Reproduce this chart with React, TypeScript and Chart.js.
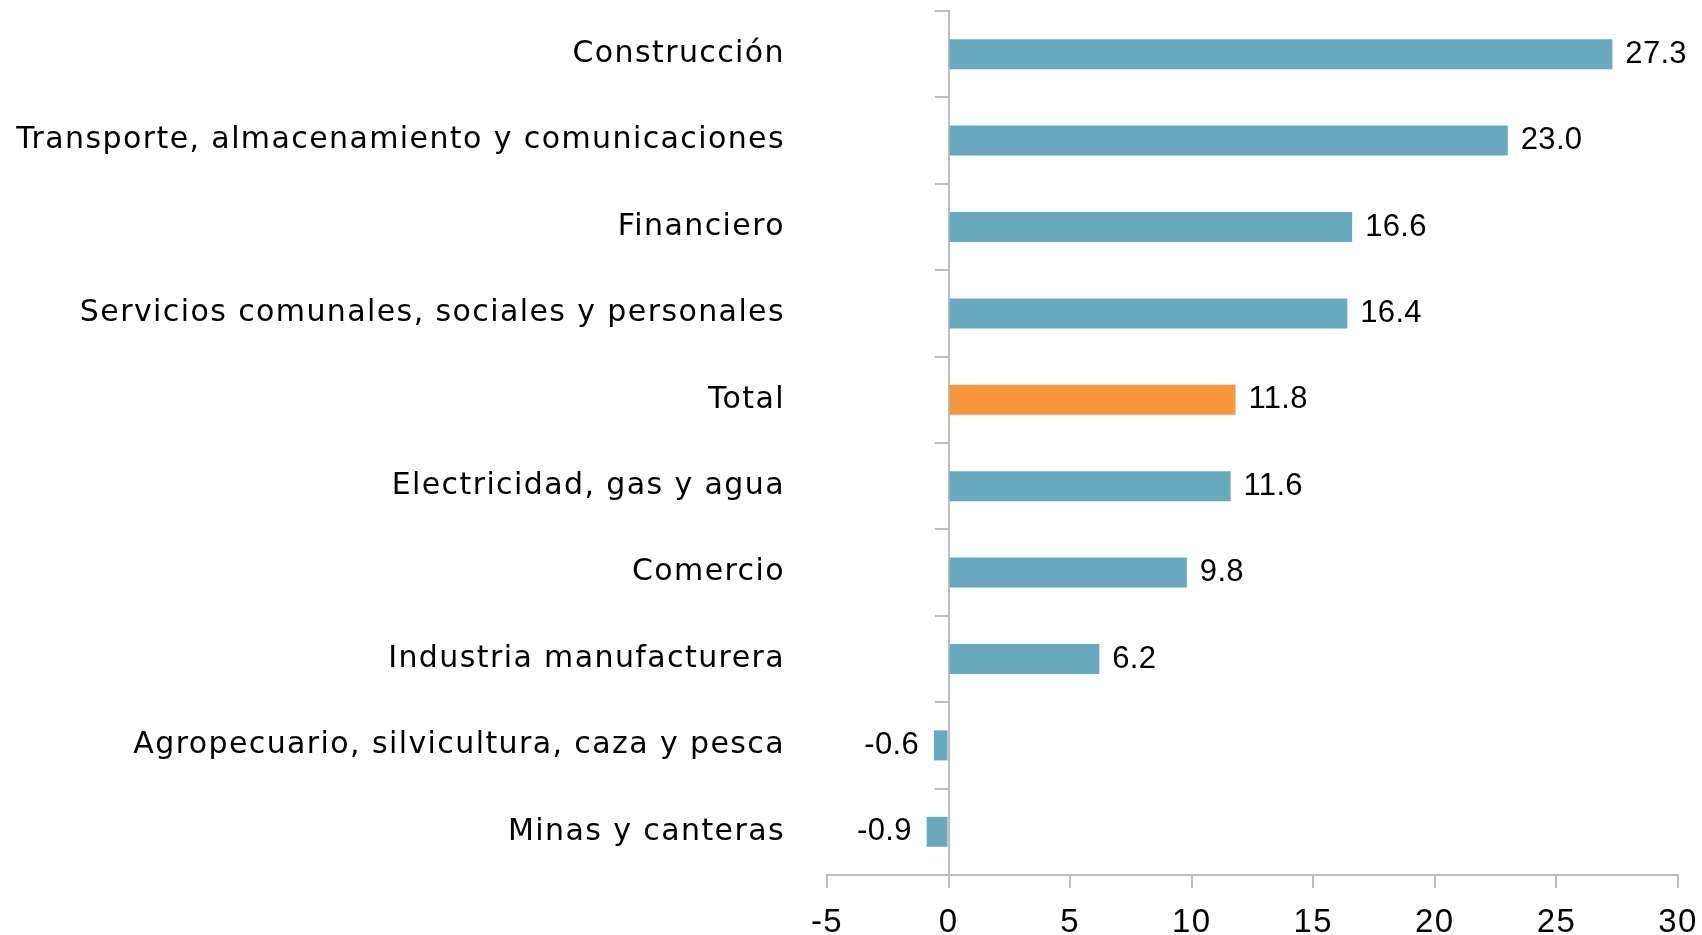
import React, { useEffect, useRef } from "react";
import { Chart, registerables } from "chart.js";

Chart.register(...registerables);

const categories = [
  "Construcción",
  "Transporte, almacenamiento y comunicaciones",
  "Financiero",
  "Servicios comunales, sociales y personales",
  "Total",
  "Electricidad, gas y agua",
  "Comercio",
  "Industria manufacturera",
  "Agropecuario, silvicultura, caza y pesca",
  "Minas y canteras",
];

const values = [27.3, 23.0, 16.6, 16.4, 11.8, 11.6, 9.8, 6.2, -0.6, -0.9];

const highlight = "Total";
const xMin = -5;
const xMax = 30;
const xStep = 5;

const BLUE = "#67A9BD";
const ORANGE = "#F7963A";
const AXIS = "#BDBDBD";
const TEXT = "#000000";
const CAT_FONT = "DejaVu Sans";
const NUM_FONT = "Liberation Sans";

const spacing = {
  id: "spacing",
  beforeDraw(chart: any) {
    (chart.ctx as any).letterSpacing = "1.4px";
  },
  afterDraw(chart: any) {
    (chart.ctx as any).letterSpacing = "0px";
  },
};

const valueLabels = {
  id: "valueLabels",
  afterDatasetsDraw(chart: any) {
    const ctx = chart.ctx;
    const meta = chart.getDatasetMeta(0);
    ctx.save();
    (ctx as any).letterSpacing = "0.3px";
    ctx.font = `31px "${NUM_FONT}"`;
    ctx.fillStyle = TEXT;
    ctx.textBaseline = "middle";
    meta.data.forEach((el: any, i: number) => {
      const v = values[i];
      const txt = v.toFixed(1);
      if (v >= 0) {
        ctx.textAlign = "left";
        ctx.fillText(txt, el.x + 13, el.y);
      } else {
        ctx.textAlign = "right";
        ctx.fillText(txt, el.x - 15, el.y);
      }
    });
    ctx.restore();
  },
};

export default function App() {
  const ref = useRef<HTMLCanvasElement | null>(null);

  useEffect(() => {
    if (!ref.current) return;
    const chart = new Chart(ref.current, {
      type: "bar",
      data: {
        labels: categories,
        datasets: [
          {
            data: values,
            backgroundColor: categories.map((c) => (c === highlight ? ORANGE : BLUE)),
            categoryPercentage: 1,
            barPercentage: 0.347,
            yAxisID: "y",
          },
        ],
      },
      options: {
        indexAxis: "y",
        animation: false,
        responsive: false,
        maintainAspectRatio: false,
        layout: { padding: { top: 11, right: 24, left: 0, bottom: 0 } },
        plugins: {
          legend: { display: false },
          tooltip: { enabled: false },
        },
        scales: {
          x: {
            type: "linear",
            min: xMin,
            max: xMax,
            ticks: {
              stepSize: xStep,
              color: TEXT,
              font: { family: NUM_FONT, size: 33 },
              padding: 15,
            },
            grid: {
              drawOnChartArea: false,
              tickLength: 13,
              color: AXIS,
              lineWidth: 2,
            },
            border: { display: true, color: AXIS, width: 2 },
            afterFit: (scale: any) => {
              scale.height = 60;
              scale.paddingLeft = 0;
              scale.paddingRight = 0;
            },
          },
          y: {
            type: "category",
            position: "left",
            offset: true,
            ticks: {
              color: TEXT,
              font: { family: CAT_FONT, size: 30 },
              padding: 42,
            },
            grid: { display: false, drawTicks: false },
            border: { display: false },
            afterFit: (scale: any) => {
              scale.width = 827;
              scale.paddingTop = 0;
              scale.paddingBottom = 0;
            },
          },
          y2: {
            type: "category",
            axis: "y",
            position: { x: 0 },
            offset: true,
            ticks: { display: false },
            grid: {
              offset: true,
              drawOnChartArea: false,
              tickLength: 13,
              color: AXIS,
              lineWidth: 2,
            },
            border: { display: true, color: AXIS, width: 2 },
            afterFit: (scale: any) => {
              scale.paddingTop = 0;
              scale.paddingBottom = 0;
            },
          },
        },
      } as any,
      plugins: [spacing, valueLabels],
    });
    return () => chart.destroy();
  }, []);

  return (
    <div style={{ position: "fixed", left: 0, top: 0, width: 1702, height: 935, background: "#fff" }}>
      <canvas ref={ref} width={1702} height={935} style={{ width: 1702, height: 935 }} />
    </div>
  );
}
